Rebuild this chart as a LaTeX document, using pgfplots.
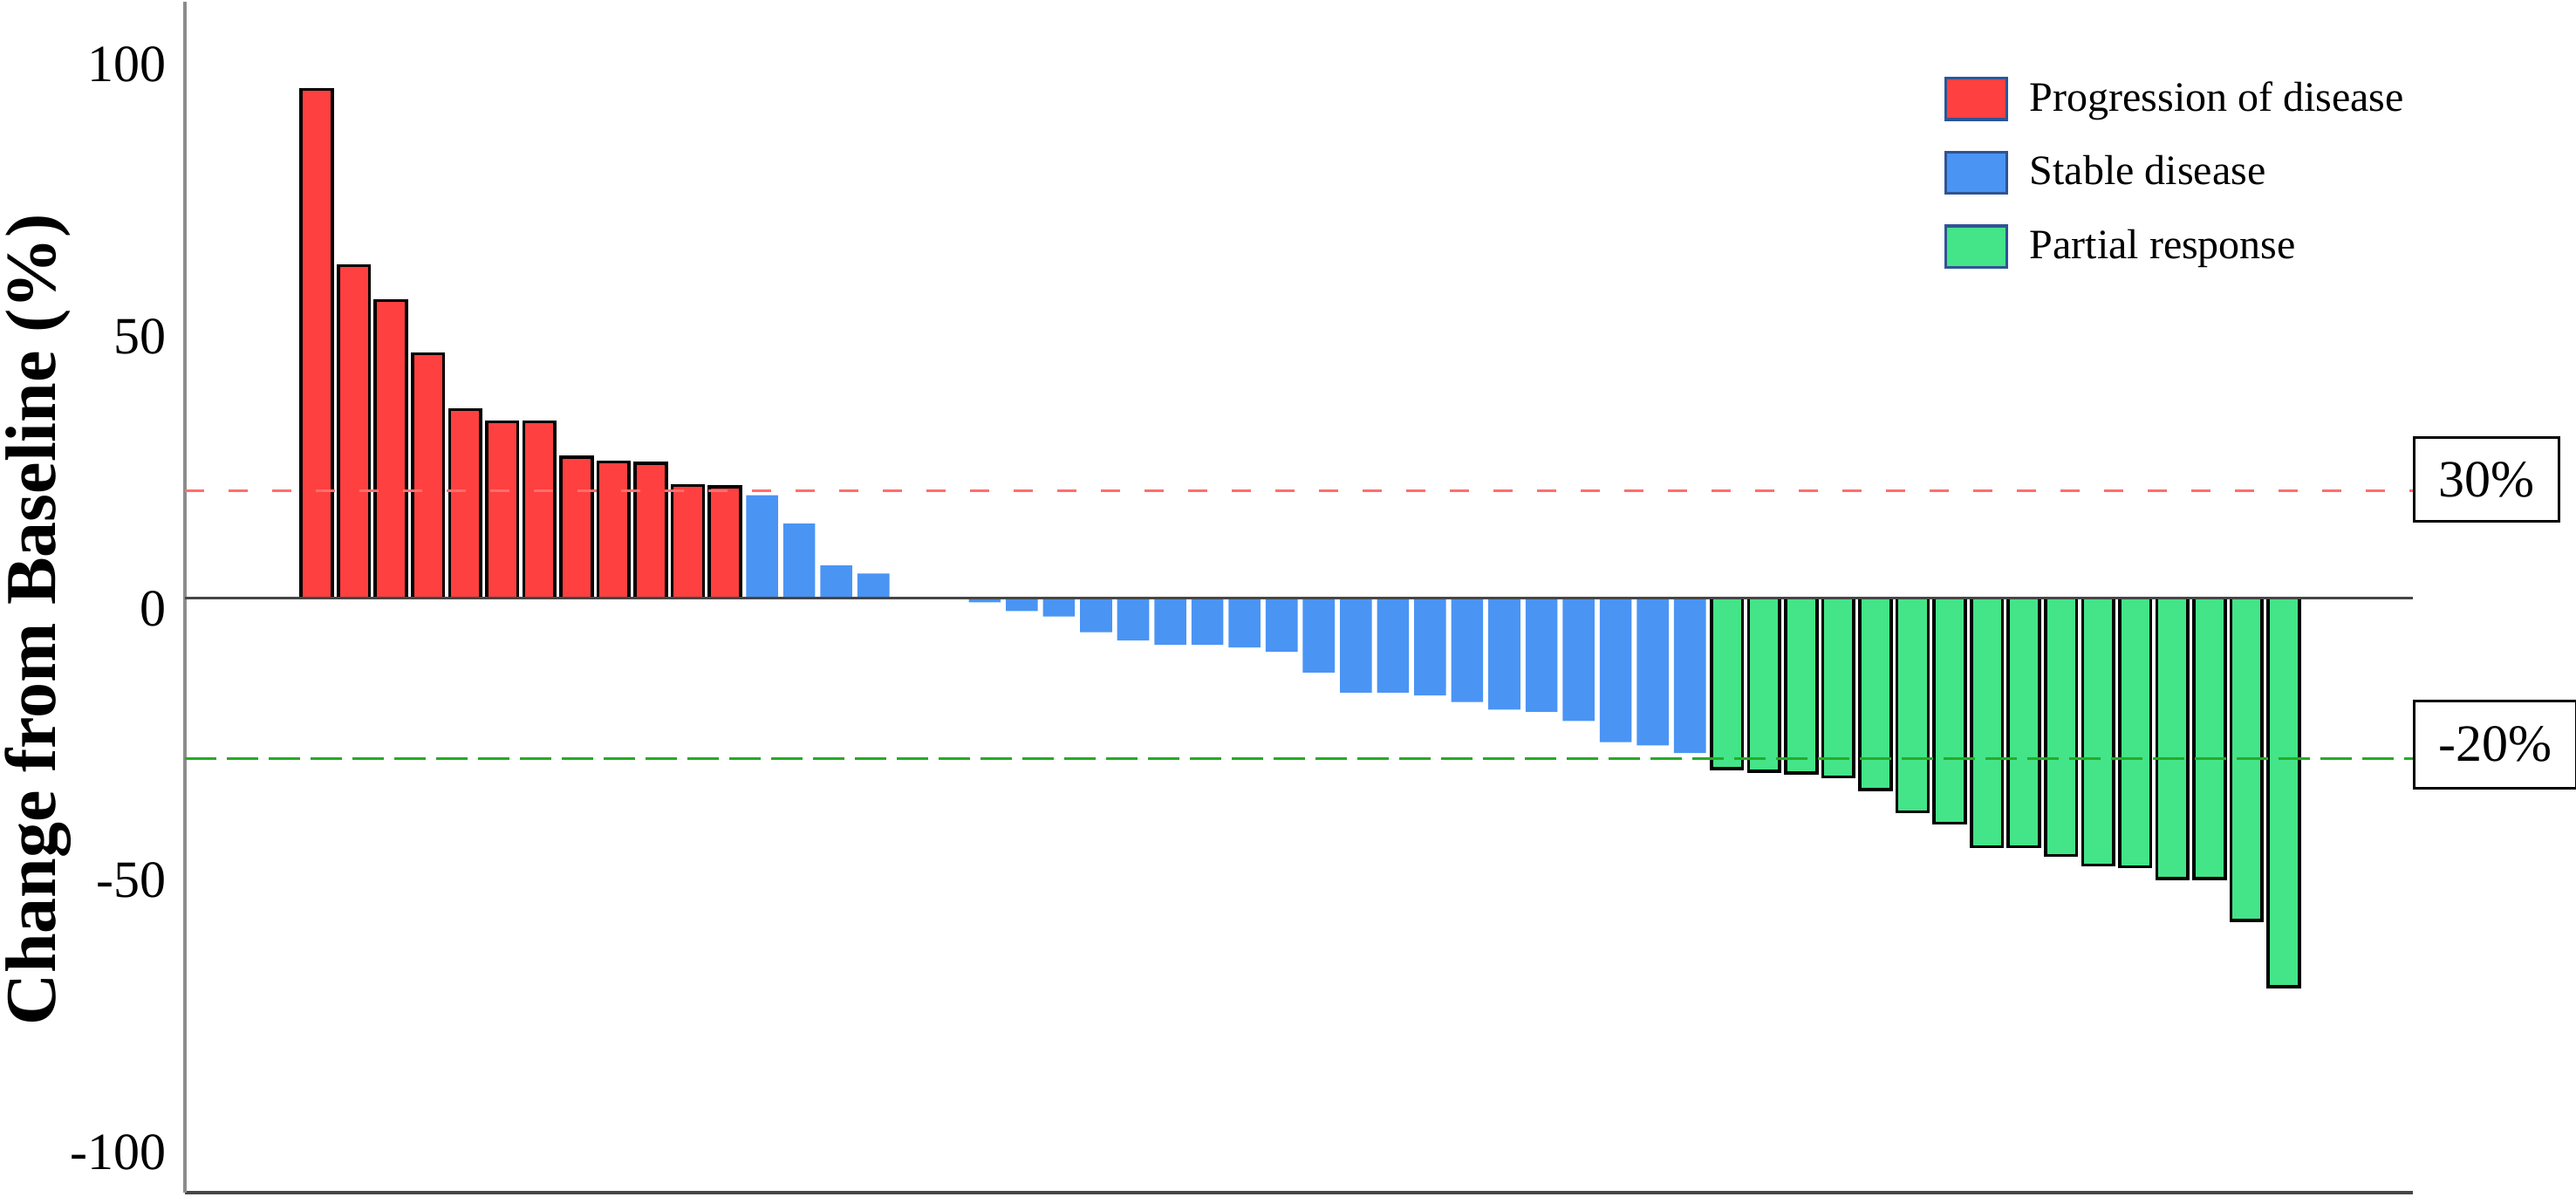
\documentclass[border=0pt]{standalone}
\usepackage{fontspec}
\setmainfont{Liberation Serif}
\usepackage{pgfplots}
\pgfplotsset{compat=1.18}

\definecolor{pdred}{RGB}{255,64,64}
\definecolor{sdblue}{RGB}{74,148,244}
\definecolor{prgreen}{RGB}{68,228,136}
\definecolor{legborder}{RGB}{47,84,150}
\definecolor{refred}{RGB}{255,110,110}
\definecolor{refgreen}{RGB}{40,170,40}
\definecolor{axgray}{RGB}{140,140,140}
\definecolor{axdark}{RGB}{70,70,70}

\pgfplotsset{
  legbox/.style={legend image code/.code={%
    \draw[fill=#1, draw=legborder, line width=0.9pt] (0pt,-5.9pt) rectangle (17.5pt,5.9pt);}},
}

\begin{document}
\begin{tikzpicture}
\begin{axis}[name=ax, scale only axis, width=638.5pt, height=341.25pt,
  xmin=-2.55, xmax=57.48, ymin=-109.3, ymax=109.6, enlargelimits=false,
  axis x line=bottom, axis y line=left,
  x axis line style={-, draw=axdark, line width=0.8pt},
  y axis line style={-, draw=axgray, line width=0.85pt},
  xtick=\empty, ytick={-100,-50,0,50,100}, yticklabels={-100,-50,0,50,100},
  major tick length=0pt, tick style={draw=none},
  yticklabel style={font=\fontsize{15}{18}\selectfont, anchor=east, inner sep=0pt, xshift=-5.25pt, yshift=-3pt},
  ylabel={Change from Baseline (\%)},
  ylabel style={at={(axis description cs:-0.066,0.4813)}, anchor=center, font=\fontsize{20.5}{24}\selectfont\bfseries},
  legend style={draw=none, fill=none, at={(rel axis cs:0.7893,0.9377)}, anchor=north west,
    inner sep=0pt, row sep=8.5pt, font=\fontsize{12}{14}\selectfont,
    nodes={inner sep=0.5pt},
    /tikz/every odd column/.append style={column sep=5.6pt}},
  legend cell align=left,
  clip=false]

% progression of disease
\addplot[ybar, bar width=0.84, bar shift=0pt, fill=pdred, draw=black, line width=0.9pt, legbox=pdred]
  coordinates {(1,93.5) (2,61.1) (3,54.7) (4,44.9) (5,34.6) (6,32.4) (7,32.4) (8,25.9) (9,25.0) (10,24.8) (11,20.7) (12,20.4)};
\addlegendentry{Progression of disease}

% stable disease
\addplot[ybar, bar width=0.86, bar shift=0pt, fill=sdblue, draw=none, legbox=sdblue]
  coordinates {(13,18.9) (14,13.7) (15,6.0) (16,4.5)
    (19,-0.8) (20,-2.4) (21,-3.4) (22,-6.3) (23,-7.8) (24,-8.6) (25,-8.6) (26,-9.1) (27,-9.9) (28,-13.7)
    (29,-17.4) (30,-17.4) (31,-17.9) (32,-19.1) (33,-20.5) (34,-20.9) (35,-22.6) (36,-26.5) (37,-27.1) (38,-28.5)};
\addlegendentry{Stable disease}

% partial response
\addplot[ybar, bar width=0.84, bar shift=0pt, fill=prgreen, draw=black, line width=0.9pt, legbox=prgreen]
  coordinates {(39,-31.4) (40,-31.8) (41,-32.2) (42,-32.9) (43,-35.2) (44,-39.3) (45,-41.4) (46,-45.7)
    (47,-45.7) (48,-47.3) (49,-49.1) (50,-49.4) (51,-51.6) (52,-51.6) (53,-59.3) (54,-71.5)};
\addlegendentry{Partial response}

\draw[axdark, line width=0.75pt] (axis cs:-2.55,0) -- (axis cs:57.48,0);
\draw[refred, line width=0.65pt, dash pattern=on 5.5pt off 7pt] (axis cs:-2.55,19.7) -- (axis cs:57.48,19.7);
\draw[refgreen, line width=0.75pt, dash pattern=on 9pt off 3pt] (axis cs:-2.55,-29.5) -- (axis cs:57.48,-29.5);

\node[draw, line width=0.8pt, inner xsep=7pt, minimum height=24pt, anchor=west, font=\fontsize{15}{18}\selectfont]
  at ([yshift=3.25pt]axis cs:57.48,19.7) {30\%};
\node[draw, line width=0.8pt, inner xsep=7pt, minimum height=25pt, anchor=west, font=\fontsize{15}{18}\selectfont]
  at ([yshift=4pt]axis cs:57.48,-29.5) {-20\%};
\end{axis}
\pgfresetboundingbox
\path ([xshift=-53pt,yshift=-1pt]ax.south west) rectangle ([xshift=46.75pt,yshift=0.5pt]ax.north east);
\end{tikzpicture}
\end{document}
